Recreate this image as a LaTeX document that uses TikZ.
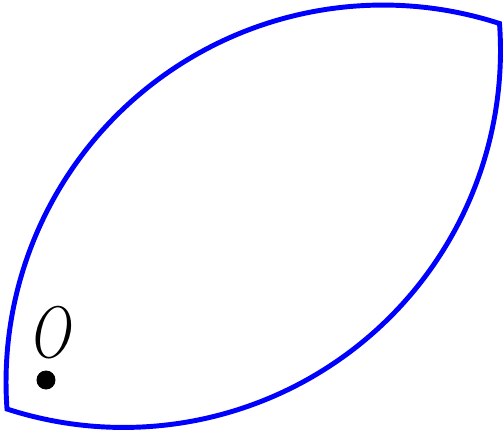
\documentclass[tikz,border=0pt]{standalone}
\usepackage{amsmath}
\definecolor{lensblue}{HTML}{0000FF}
\definecolor{ink}{HTML}{000000}

\begin{document}
\begin{tikzpicture}[text=ink,line join=miter]
  \useasboundingbox (0,0) rectangle (5.04,4.32);
  \pgfmathsetmacro{\rad}{3.77}
  \pgfmathsetmacro{\tilt}{4.1}

  % Two equal circular arcs meet at the lower-left and upper-right corners.
  \coordinate (A) at (0.07,0.23);
  \draw[lensblue,line width=1.4pt]
    (A) arc[start angle={180+\tilt},end angle=72,radius=\rad] coordinate (B)
        arc[start angle=\tilt,end angle=-108,radius=\rad] -- cycle;

  \coordinate (P) at (0.46,0.52);
  \fill[ink] (P) circle (0.095);
  \node[font=\fontsize{21}{25}\selectfont,inner sep=0pt,xscale=0.72] (O) at (0.54,0.99) {$O$};
\end{tikzpicture}
\end{document}
